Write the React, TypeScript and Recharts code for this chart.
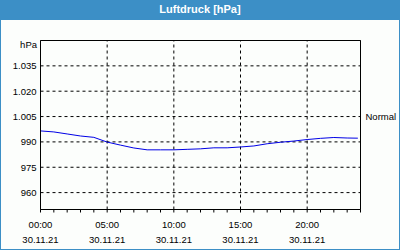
import {
  LineChart,
  Line,
  XAxis,
  YAxis,
  CartesianGrid,
  ReferenceLine,
} from "recharts";

// hours since 00:00 on 30.11.21
const hours = [0, 1, 2, 3, 4, 5, 6, 7, 8, 9, 10, 11, 12, 13, 14, 15, 16, 17, 18, 19, 20, 21, 22, 23, 23.8];
// Luftdruck in hPa
const pressure = [
  996.5, 995.9, 994.7, 993.5, 992.7, 989.9, 988.1, 986.4, 985.3, 985.3, 985.3, 985.6, 985.9,
  986.5, 986.5, 987.0, 987.6, 988.9, 989.8, 990.5, 991.4, 992.1, 992.6, 992.3, 992.2,
];

const yTicks = [960, 975, 990, 1005, 1020, 1035];
const xTicks = [0, 1, 2, 3, 4, 5, 6, 7, 8, 9, 10, 11, 12, 13, 14, 15, 16, 17, 18, 19, 20, 21, 22, 23, 24];
const labelHours = [0, 5, 10, 15, 20];
const gridHours = [5, 10, 15, 20];
const dateLabel = "30.11.21";
const normalValue = 1005;

const data = hours.map((h, i) => ({ h, p: pressure[i] }));

const BLUE = "#3c8fc6";
const FONT = "'Liberation Sans', Arial, sans-serif";

const fmtHPa = (v: number) => {
  if (v >= 1000) {
    const s = String(v);
    return s.slice(0, s.length - 3) + "." + s.slice(s.length - 3);
  }
  return String(v);
};

const pad = (n: number) => (n < 10 ? "0" + n : String(n));

function TimeTick(props: any) {
  const { x, y, payload } = props;
  if (!labelHours.includes(payload.value)) return <g />;
  return (
    <g>
      <text x={x} y={y} dy={13} textAnchor="middle" fill="#000" fontSize={9.5} fontFamily={FONT}>
        {pad(payload.value) + ":00"}
      </text>
      <text x={x} y={y} dy={28} textAnchor="middle" fill="#000" fontSize={9.5} fontFamily={FONT}>
        {dateLabel}
      </text>
    </g>
  );
}

export default function App() {
  return (
    <div
      style={{
        position: "relative",
        width: 400,
        height: 250,
        background: "#fcfefc",
        boxShadow: `inset 1px 0 0 ${BLUE}, inset -1px 0 0 ${BLUE}, inset 0 -1px 0 ${BLUE}`,
        fontFamily: FONT,
        overflow: "hidden",
      }}
    >
      <style>{`body{margin:0}`}</style>
      <div
        style={{
          position: "absolute",
          left: 0,
          top: 0,
          width: 400,
          height: 20,
          background: BLUE,
          color: "#fff",
          fontWeight: "bold",
          fontSize: 11,
          lineHeight: "18px",
          textAlign: "center",
        }}
      >
        Luftdruck [hPa]
      </div>
      <div
        style={{
          position: "absolute",
          right: 363,
          top: 39,
          fontSize: 9.5,
          color: "#000",
        }}
      >
        hPa
      </div>
      <div style={{ position: "absolute", left: 0, top: 0 }}>
        <LineChart width={400} height={250} data={data} margin={{ top: 40.5, right: 39.5, bottom: 0, left: 0 }}>
          <CartesianGrid vertical={false} stroke="#000" strokeDasharray="3 3" />
          {gridHours.map((h) => (
            <ReferenceLine key={h} x={h} stroke="#000" strokeDasharray="3 3" />
          ))}
          <ReferenceLine y={1050} stroke="#000" />
          <ReferenceLine x={24} stroke="#000" />
          <ReferenceLine
            y={normalValue}
            stroke="none"
            label={{ value: "Normal", position: "right", offset: 5, fill: "#000", fontSize: 9.5, fontFamily: FONT }}
          />
          <XAxis
            dataKey="h"
            type="number"
            domain={[0, 24]}
            ticks={xTicks}
            interval={0}
            height={40.5}
            tickSize={3}
            stroke="#000"
            tick={<TimeTick />}
          />
          <YAxis
            domain={[950, 1050]}
            ticks={yTicks}
            interval={0}
            width={40.5}
            tickSize={0}
            tickMargin={4}
            stroke="#000"
            tickFormatter={fmtHPa}
            tick={{ fill: "#000", fontSize: 9.5, fontFamily: FONT }}
          />
          <Line
            type="linear"
            dataKey="p"
            stroke="#0000e6"
            strokeWidth={1}
            dot={false}
            isAnimationActive={false}
          />
        </LineChart>
      </div>
    </div>
  );
}
